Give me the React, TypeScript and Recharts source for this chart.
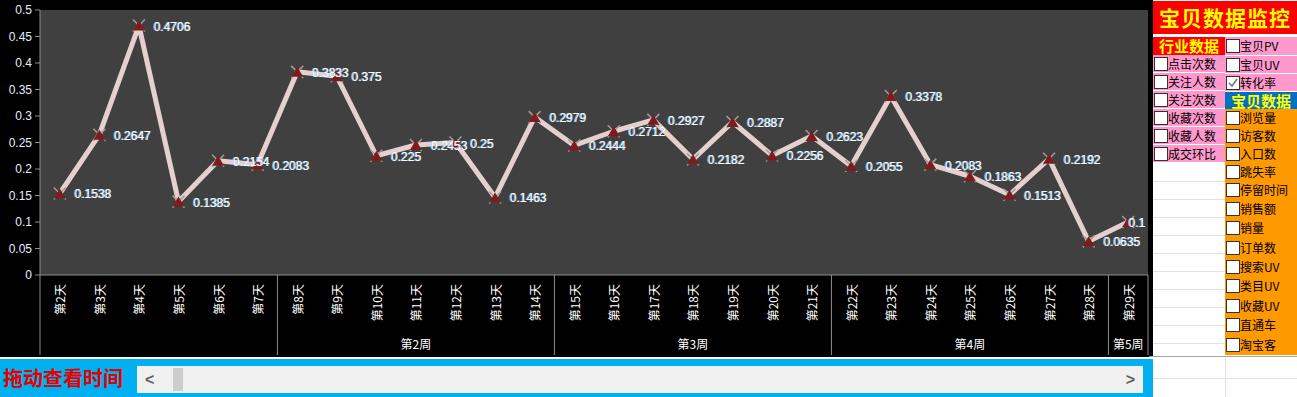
import { LineChart, Line, XAxis, YAxis, CartesianGrid, LabelList } from 'recharts'

const days = [
  '第2天', '第3天', '第4天', '第5天', '第6天', '第7天', '第8天', '第9天', '第10天', '第11天',
  '第12天', '第13天', '第14天', '第15天', '第16天', '第17天', '第18天', '第19天', '第20天', '第21天',
  '第22天', '第23天', '第24天', '第25天', '第26天', '第27天', '第28天', '第29天',
]
const rates = [
  0.1538, 0.2647, 0.4706, 0.1385, 0.2154, 0.2083, 0.3833, 0.375, 0.225, 0.2453,
  0.25, 0.1463, 0.2979, 0.2444, 0.2712, 0.2927, 0.2182, 0.2887, 0.2256, 0.2623,
  0.2055, 0.3378, 0.2083, 0.1863, 0.1513, 0.2192, 0.0635, 0.1,
]
const weekNames = ['', '第2周', '第3周', '第4周', '第5周']
const weekSpans = [6, 7, 7, 7, 1]
const yTicks = [0, 0.05, 0.1, 0.15, 0.2, 0.25, 0.3, 0.35, 0.4, 0.45, 0.5]

const industryItems = ['点击次数', '关注人数', '关注次数', '收藏次数', '收藏人数', '成交环比']
const productTopItems = ['宝贝PV', '宝贝UV', '转化率']
const productItems = [
  '浏览量', '访客数', '入口数', '跳失率', '停留时间', '销售额', '销量',
  '订单数', '搜索UV', '类目UV', '收藏UV', '直通车', '淘宝客',
]
const checkedItems = ['转化率']

const data = days.map((day, i) => ({ day, rate: rates[i] }))
const weekStarts = weekSpans.map((_, i) => weekSpans.slice(0, i).reduce((a, b) => a + b, 0))

const PLOT_LEFT = 40
const PLOT_RIGHT = 1148
const PLOT_BOTTOM = 275
const AXIS_BOTTOM = 355
const BAND = (PLOT_RIGHT - PLOT_LEFT) / days.length
const CJK = '"Noto Sans CJK SC", "Noto Sans", sans-serif'
const LAT = '"Liberation Sans", Arial, sans-serif'
const GREY = '#8c8c8c'

function DayTick(props: any) {
  const { x, payload } = props
  const index = props.index ?? payload.index
  const w = weekStarts.indexOf(index)
  const left = x - BAND / 2
  return (
    <g>
      <text
        transform={`translate(${x},${PLOT_BOTTOM + 9}) rotate(-90)`}
        textAnchor="end" dominantBaseline="central"
        fill="#fff" fontSize={12} fontFamily={CJK}
      >
        {payload.value}
      </text>
      {w >= 0 && (
        <>
          <line x1={left} y1={PLOT_BOTTOM} x2={left} y2={AXIS_BOTTOM} stroke={GREY} />
          <text
            x={left + (weekSpans[w] * BAND) / 2} y={343}
            textAnchor="middle" dominantBaseline="central"
            fill="#fff" fontSize={12} fontFamily={CJK}
          >
            {weekNames[w]}
          </text>
        </>
      )}
      {index === days.length - 1 && (
        <line x1={x + BAND / 2} y1={PLOT_BOTTOM} x2={x + BAND / 2} y2={AXIS_BOTTOM} stroke={GREY} />
      )}
    </g>
  )
}

const renderMarker = (p: any) => {
  const { cx, cy, index } = p
  return (
    <g key={`m${index}`}>
      <path
        d={`M${cx - 6},${cy - 6}L${cx + 6},${cy + 6}M${cx + 6},${cy - 6}L${cx - 6},${cy + 6}`}
        stroke="#a89a9a" strokeWidth={1.5}
      />
      <path d={`M${cx},${cy - 5}L${cx + 6},${cy + 5}L${cx - 6},${cy + 5}Z`} fill="#7d1c1c" />
    </g>
  )
}

const renderLabel = (p: any) => {
  const { x, y, value, index } = p
  const s = String(value)
  const lx = Math.min(x + 15, PLOT_RIGHT - s.length * 6.4)
  return (
    <g key={`l${index}`}>
      <text x={lx - 1} y={y + 1} fill="#8fd0ff" fontSize={12} fontFamily={LAT} dominantBaseline="central">{s}</text>
      <text x={lx} y={y + 1} fill="#ffffff" fontSize={12} fontFamily={LAT} dominantBaseline="central">{s}</text>
    </g>
  )
}

function CheckRow({ label, left, top, height, bg }: { label: string; left: number; top: number; height: number; bg: string }) {
  const checked = checkedItems.includes(label)
  return (
    <div style={{ position: 'absolute', left, top, width: 72, height, background: bg }}>
      <div style={{
        position: 'absolute', left: 1, top: height / 2 - 7, width: 12, height: 12,
        background: '#fff', border: '1px solid #333',
      }}>
        {checked && (
          <svg width={12} height={12} style={{ position: 'absolute', left: 0, top: 0 }}>
            <polyline points="2,6 5,9 10,2" fill="none" stroke="#777" strokeWidth={1.6} />
          </svg>
        )}
      </div>
      <div style={{
        position: 'absolute', left: 15, top: 0, height, lineHeight: `${height}px`,
        fontSize: 12, fontFamily: CJK, color: '#000', whiteSpace: 'nowrap',
      }}>
        {label}
      </div>
    </div>
  )
}

function TitleRow({ label, left, top, height, bg }: { label: string; left: number; top: number; height: number; bg: string }) {
  return (
    <div style={{
      position: 'absolute', left, top, width: 72, height, background: bg, color: '#ffff00',
      fontSize: 15, fontWeight: 700, fontFamily: CJK, lineHeight: `${height}px`, textAlign: 'center',
      whiteSpace: 'nowrap',
    }}>
      {label}
    </div>
  )
}

const leftRowTops = [37, 55, 73, 91, 109, 127, 145, 163]
const rightRowTops = [37, 56, 74, 92, 109, 127, 145, 163, 181, 200, 219, 238, 258, 277, 296, 316, 335, 355]
const whiteGrid = [181, 199, 217, 235, 253, 271, 289, 307, 325, 343]

function Panel() {
  return (
    <>
      <div style={{
        position: 'absolute', left: 1153, top: 1, width: 144, height: 33, background: '#ff0000',
        color: '#ffff00', fontSize: 21, fontWeight: 700, fontFamily: CJK, lineHeight: '33px',
        textAlign: 'center', letterSpacing: 1, whiteSpace: 'nowrap',
      }}>
        宝贝数据监控
      </div>
      {whiteGrid.map(y => (
        <div key={y} style={{ position: 'absolute', left: 1153, top: y, width: 72, height: 1, background: '#e2e2e2' }} />
      ))}
      <TitleRow label="行业数据" left={1153} top={leftRowTops[0]} height={leftRowTops[1] - leftRowTops[0]} bg="#ff0000" />
      {industryItems.map((t, i) => (
        <CheckRow key={t} label={t} left={1153} top={leftRowTops[i + 1]}
          height={leftRowTops[i + 2] - leftRowTops[i + 1] - 1} bg="#ff99cc" />
      ))}
      {productTopItems.map((t, i) => (
        <CheckRow key={t} label={t} left={1225} top={rightRowTops[i]}
          height={rightRowTops[i + 1] - rightRowTops[i] - 1} bg="#ff99cc" />
      ))}
      <TitleRow label="宝贝数据" left={1225} top={rightRowTops[3]} height={rightRowTops[4] - rightRowTops[3]} bg="#0070c0" />
      <div style={{ position: 'absolute', left: 1225, top: rightRowTops[4], width: 72, height: 355 - rightRowTops[4], background: '#ff9900' }} />
      {productItems.map((t, i) => (
        <CheckRow key={t} label={t} left={1225} top={rightRowTops[i + 4]}
          height={rightRowTops[i + 5] - rightRowTops[i + 4] - 1} bg="#ff9900" />
      ))}
      <div style={{ position: 'absolute', left: 1149, top: 356, width: 148, height: 1, background: '#a6a6a6' }} />
      <div style={{ position: 'absolute', left: 1153, top: 378, width: 144, height: 1, background: '#e2e2e2' }} />
      <div style={{ position: 'absolute', left: 1225, top: 357, width: 1, height: 40, background: '#e2e2e2' }} />
    </>
  )
}

export default function App() {
  return (
    <div style={{ position: 'absolute', left: 0, top: 0, width: 1297, height: 397, background: '#fff', overflow: 'hidden' }}>
      <div style={{ position: 'absolute', left: 0, top: 0, width: 1153, height: 357, background: '#000' }}>
        <LineChart width={1150} height={357} data={data} margin={{ top: 10, right: 2, left: 0, bottom: 0 }}>
          <CartesianGrid fill="#404040" stroke="none" horizontal={false} vertical={false} />
          <XAxis
            dataKey="day" scale="band" height={82} interval={0} tickLine={false} stroke={GREY}
            tick={(p: any) => <DayTick {...p} />}
          />
          <YAxis
            width={40} domain={[0, 0.5]} ticks={yTicks} interval={0} stroke={GREY}
            tickSize={5} tickMargin={3}
            tick={{ fill: '#e4ecff', fontSize: 12, fontFamily: LAT }}
          />
          <Line dataKey="rate" stroke="none" dot={renderMarker} activeDot={false} isAnimationActive={false} />
          <Line
            dataKey="rate" stroke="#e6cfcf" strokeWidth={5} strokeLinejoin="round"
            dot={false} activeDot={false} isAnimationActive={false}
          >
            <LabelList dataKey="rate" content={renderLabel} />
          </Line>
        </LineChart>
      </div>
      <Panel />
      <div style={{ position: 'absolute', left: 0, top: 359, width: 1153, height: 38, background: '#00b0f0' }}>
        <div style={{
          position: 'absolute', left: 3, top: 0, height: 38, lineHeight: '38px', color: '#e60000',
          fontSize: 20, fontWeight: 700, fontFamily: CJK, whiteSpace: 'nowrap',
        }}>
          拖动查看时间
        </div>
        <div style={{ position: 'absolute', left: 137, top: 7, width: 1006, height: 27, background: '#f0f0f0' }}>
          <div style={{ position: 'absolute', left: 8, top: 0, lineHeight: '27px', fontSize: 16, fontWeight: 700, color: '#606060', fontFamily: LAT }}>
            {'<'}
          </div>
          <div style={{ position: 'absolute', left: 36, top: 2, width: 10, height: 23, background: '#cdcdcd' }} />
          <div style={{ position: 'absolute', right: 8, top: 0, lineHeight: '27px', fontSize: 16, fontWeight: 700, color: '#606060', fontFamily: LAT }}>
            {'>'}
          </div>
        </div>
      </div>
    </div>
  )
}
